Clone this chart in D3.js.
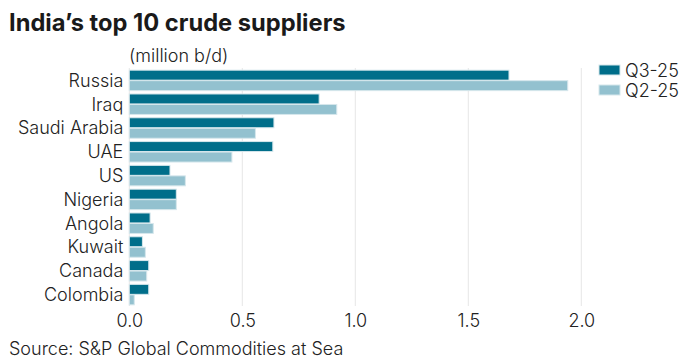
<!DOCTYPE html>
<html><head><meta charset="utf-8">
<script src="https://cdn.jsdelivr.net/npm/d3@7"></script>
<style>
body{margin:0;background:#fff;}
text{font-family:Inter,Roboto,sans-serif;}
</style></head>
<body><svg id="c" width="697" height="360"></svg>
<script>
const categories = ["Russia","Iraq","Saudi Arabia","UAE","US","Nigeria","Angola","Kuwait","Canada","Colombia"];
const q3_25 = [1.68,0.84,0.64,0.635,0.18,0.208,0.092,0.058,0.086,0.086];
const q2_25 = [1.94,0.918,0.558,0.454,0.248,0.208,0.106,0.071,0.077,0.022];
const seriesNames = ["Q3-25","Q2-25"];
const xTicks = [0,0.5,1.0,1.5,2.0];
const colors = ["#006e8a","#93c1cf"];

const FS = 18;
const svg = d3.select("#c");
const x = d3.scaleLinear().domain([0,2]).range([129.3,581.3]);
const y = d3.scaleBand().domain(categories).range([68.5,306.5]).paddingInner(0.14).paddingOuter(0.07);
const y1 = d3.scaleBand().domain(seriesNames).range([0,y.bandwidth()]).paddingInner(0.05);

svg.append("text").attr("x",9).attr("y",31).attr("font-size",23.7).attr("font-weight",700)
  .attr("fill","#1a1a1a").text("India’s top 10 crude suppliers");
svg.append("text").attr("x",129).attr("y",62).attr("font-size",FS).attr("font-weight",300)
  .attr("fill","#222").text("(million b/d)");

// grid
svg.append("g").selectAll("line").data(xTicks).join("line")
  .attr("x1",d=>x(d)).attr("x2",d=>x(d)).attr("y1",68).attr("y2",306)
  .attr("stroke","#e6e6e6").attr("stroke-width",1);

// bars
const data = [q3_25,q2_25];
const g = svg.append("g");
categories.forEach((c,i)=>{
  seriesNames.forEach((s,j)=>{
    g.append("rect").attr("x",x(0)).attr("y",y(c)+y1(s))
      .attr("width",x(data[j][i])-x(0)).attr("height",y1.bandwidth())
      .attr("fill",colors[j]).attr("stroke","#d6e7ec").attr("stroke-width",1);
  });
});

// category labels
const yAxis = d3.axisLeft(y).tickSize(0).tickPadding(6);
const ya = svg.append("g").attr("transform",`translate(${x(0)},0)`).call(yAxis);
ya.select(".domain").remove();
ya.selectAll("text").attr("font-size",FS).attr("font-weight",300).attr("fill","#222")
  .attr("font-family","Inter,sans-serif").attr("dy","0.36em");

// x axis
const xAxis = d3.axisBottom(x).tickValues(xTicks).tickFormat(d3.format(".1f")).tickSize(0).tickPadding(8);
const xa = svg.append("g").attr("transform","translate(0,306)").call(xAxis);
xa.select(".domain").remove();
xa.selectAll("text").attr("font-size",FS).attr("font-weight",300).attr("fill","#222")
  .attr("font-family","Inter,sans-serif");

// legend
const lg = svg.append("g");
seriesNames.forEach((s,j)=>{
  lg.append("rect").attr("x",599).attr("y",65+j*20).attr("width",21).attr("height",10)
    .attr("fill",colors[j]).attr("stroke","#d6e7ec");
  lg.append("text").attr("x",625).attr("y",76.5+j*20).attr("font-size",FS).attr("font-weight",300)
    .attr("fill","#222").text(s);
});

svg.append("text").attr("x",9).attr("y",355).attr("font-size",FS).attr("font-weight",300)
  .attr("fill","#222").text("Source: S&P Global Commodities at Sea");
</script></body></html>
